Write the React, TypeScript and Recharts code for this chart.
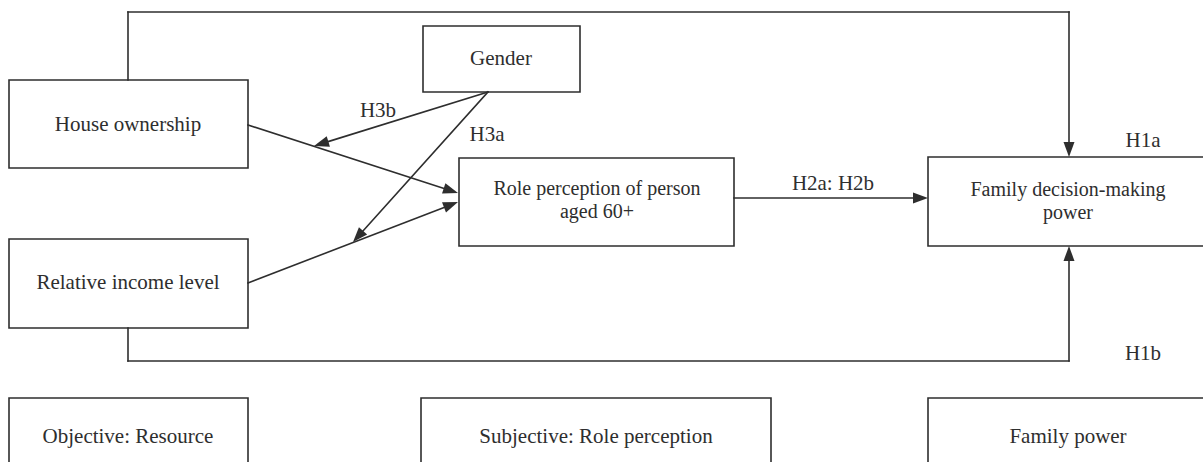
import React from 'react';
import { ComposedChart, XAxis, YAxis, ReferenceArea, ReferenceLine, Scatter } from 'recharts';

const W = 1203;
const H = 462;

// Boxes of the diagram (in diagram units = pixels of the reference)
const boxes = [
  { id: 'house', x1: 9, y1: 80, x2: 248, y2: 168 },
  { id: 'income', x1: 9, y1: 239, x2: 248, y2: 328 },
  { id: 'gender', x1: 423, y1: 26, x2: 580, y2: 92 },
  { id: 'role', x1: 459, y1: 158, x2: 734, y2: 246 },
  { id: 'family', x1: 928, y1: 157, x2: 1214, y2: 246 },
  { id: 'objective', x1: 9, y1: 398, x2: 248, y2: 475 },
  { id: 'subjective', x1: 421, y1: 398, x2: 771, y2: 475 },
  { id: 'power', x1: 928, y1: 398, x2: 1214, y2: 475 },
];

// Text labels
const labels = [
  { x: 128, y: 124, lines: ['House ownership'] },
  { x: 128, y: 282, lines: ['Relative income level'] },
  { x: 501, y: 58, lines: ['Gender'] },
  { x: 597, y: 199, lines: ['Role perception of person', 'aged 60+'] },
  { x: 1068, y: 200, lines: ['Family decision-making', 'power'] },
  { x: 128, y: 436, lines: ['Objective: Resource'] },
  { x: 596, y: 436, lines: ['Subjective: Role perception'] },
  { x: 1068, y: 436, lines: ['Family power'] },
  { x: 378, y: 110, lines: ['H3b'] },
  { x: 487, y: 134, lines: ['H3a'] },
  { x: 833, y: 183, lines: ['H2a: H2b'] },
  { x: 1143, y: 140, lines: ['H1a'] },
  { x: 1143, y: 353, lines: ['H1b'] },
];

// Edges as polylines; arrowhead at the last point
const edges = [
  { id: 'h1a', pts: [[128, 80], [128, 12], [1069, 12], [1069, 157]] },
  { id: 'h1b', pts: [[128, 328], [128, 361], [1069, 361], [1069, 246]] },
  { id: 'houseRole', pts: [[248, 125], [458, 193]] },
  { id: 'incomeRole', pts: [[248, 283], [458, 202]] },
  { id: 'h3b', pts: [[488, 92], [314, 146]] },
  { id: 'h3a', pts: [[488, 92], [353, 242]] },
  { id: 'h2', pts: [[734, 198], [928, 198]] },
];

const INK = '#2e2e2e';
const FONT = 'Liberation Serif, DejaVu Serif, serif';

const makeShape = (arrow: boolean) => (props: any) => {
  const { x1, y1, x2, y2 } = props;
  if ([x1, y1, x2, y2].some((v) => v == null || isNaN(v))) return <g />;
  const dx = x2 - x1;
  const dy = y2 - y1;
  const len = Math.sqrt(dx * dx + dy * dy) || 1;
  const ux = dx / len;
  const uy = dy / len;
  const L = 15;
  const hw = 5.5;
  const bx = x2 - ux * L;
  const by = y2 - uy * L;
  const px = -uy * hw;
  const py = ux * hw;
  return (
    <g>
      <line
        x1={x1}
        y1={y1}
        x2={arrow ? bx + ux * 2 : x2}
        y2={arrow ? by + uy * 2 : y2}
        stroke={INK}
        strokeWidth={1.6}
        strokeLinecap="square"
      />
      {arrow && (
        <polygon
          points={`${x2},${y2} ${bx + px},${by + py} ${bx - px},${by - py}`}
          fill={INK}
        />
      )}
    </g>
  );
};

const LabelShape = (props: any) => {
  const { cx, cy, payload } = props;
  const lines: string[] = payload.lines;
  const multi = lines.length > 1;
  const lh = 23;
  const start = cy - ((lines.length - 1) * lh) / 2;
  return (
    <g>
      {lines.map((l, i) => (
        <text
          key={i}
          x={cx}
          y={start + i * lh}
          textAnchor="middle"
          dominantBaseline="central"
          fontFamily={FONT}
          fontSize={multi ? 20 : 21}
          fill={INK}
          style={{ fontFamily: FONT }}
        >
          {l}
        </text>
      ))}
    </g>
  );
};

export default function App() {
  const segments: any[] = [];
  edges.forEach((e) => {
    for (let i = 0; i < e.pts.length - 1; i++) {
      segments.push({
        key: `${e.id}-${i}`,
        a: e.pts[i],
        b: e.pts[i + 1],
        arrow: i === e.pts.length - 2,
      });
    }
  });
  return (
    <div style={{ position: 'absolute', left: 0, top: 0, width: W, height: H, background: '#fff', fontFamily: FONT }}>
      <ComposedChart width={W} height={H} margin={{ top: 0, right: 0, bottom: 0, left: 0 }}>
        <XAxis type="number" dataKey="x" domain={[0, W]} hide allowDataOverflow />
        <YAxis type="number" dataKey="y" domain={[0, H]} reversed hide allowDataOverflow />
        {boxes.map((b) => (
          <ReferenceArea
            key={b.id}
            x1={b.x1}
            x2={b.x2}
            y1={b.y1}
            y2={b.y2}
            ifOverflow="visible"
            fill="none"
            fillOpacity={0}
            stroke={INK}
            strokeWidth={1.6}
          />
        ))}
        {segments.map((s) => (
          <ReferenceLine
            key={s.key}
            segment={[
              { x: s.a[0], y: s.a[1] },
              { x: s.b[0], y: s.b[1] },
            ]}
            ifOverflow="visible"
            stroke={INK}
            shape={makeShape(s.arrow)}
          />
        ))}
        <Scatter data={labels} dataKey="y" shape={LabelShape} isAnimationActive={false} />
      </ComposedChart>
    </div>
  );
}
